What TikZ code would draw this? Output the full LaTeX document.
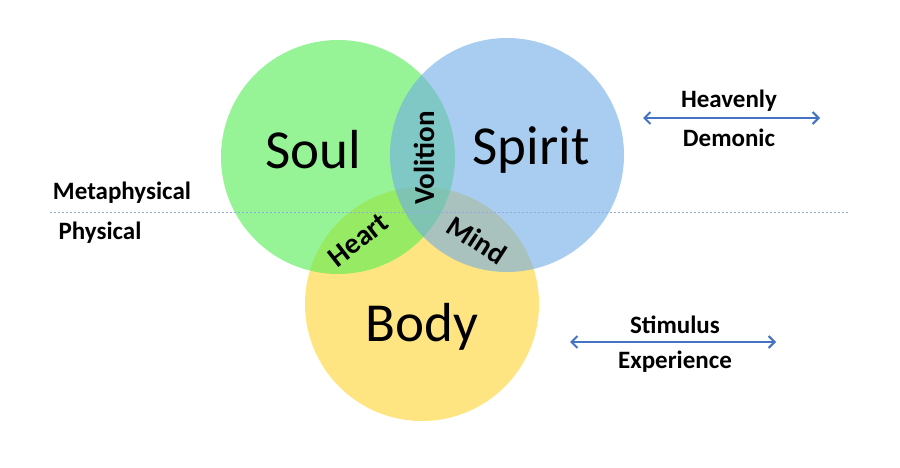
\documentclass[tikz,border=0pt]{standalone}
\usepackage{fontspec}
\setmainfont{Carlito}
\usetikzlibrary{arrows.meta}
\definecolor{soulc}{RGB}{80,238,80}
\definecolor{spiritc}{RGB}{113,172,230}
\definecolor{bodyc}{RGB}{255,213,47}
\definecolor{arrowc}{RGB}{68,114,196}
\definecolor{dashc}{RGB}{143,170,220}
\tikzset{
  venn/.style={circle, minimum size=234pt, inner sep=0pt, fill opacity=0.6, draw=none},
  big/.style={font=\fontsize{55}{60}\selectfont, text=black},
  small/.style={font=\bfseries\fontsize{29}{32}\selectfont, text=black, inner sep=0pt},
  side/.style={font=\bfseries\fontsize{25}{28}\selectfont, text=black},
  dbl/.style={{Straight Barb[length=6pt,width=12pt]}-{Straight Barb[length=6pt,width=12pt]}, draw=arrowc, line width=2pt},
  divider/.style={draw=dashc, line width=0.8pt, dash pattern=on 2pt off 2pt}
}
\begin{document}
\begin{tikzpicture}[x=1pt,y=-1pt]
\useasboundingbox[fill=white] (0,0) rectangle (900,468);
\node[venn, fill=bodyc] (body) at (422,304) {};
\node[venn, fill=soulc] (soul) at (338,157) {};
\node[venn, fill=spiritc] (spirit) at (507,155) {};
\coordinate (dl) at (50,212);
\coordinate (dr) at (850,212);
\draw[divider] (dl) -- (dr);
\node[big] (soult) at (313,150) {Soul};
\node[big] (spiritt) at (531,150) {Spirit};
\node[big] (bodyt) at (422,327) {Body};
\node[small, rotate=90] (vol) at (424,158) {Volition};
\node[small, rotate=38] (heart) at (358,240) {Heart};
\node[small, rotate=-33] (mind) at (477,240) {Mind};
\node[side] (meta) at (122,193) {Metaphysical};
\node[side] (phys) at (100,233) {Physical};
\node[side] (heav) at (729,101) {Heavenly};
\node[side] (demo) at (729,138) {Demonic};
\node[side] (stim) at (675,325) {Stimulus};
\node[side] (expe) at (675,362) {Experience};
\coordinate (a1l) at (643,118);
\coordinate (a1r) at (820,118);
\coordinate (a2l) at (570,342);
\coordinate (a2r) at (776,342);
\draw[dbl] (a1l) -- (a1r);
\draw[dbl] (a2l) -- (a2r);
\end{tikzpicture}
\end{document}
